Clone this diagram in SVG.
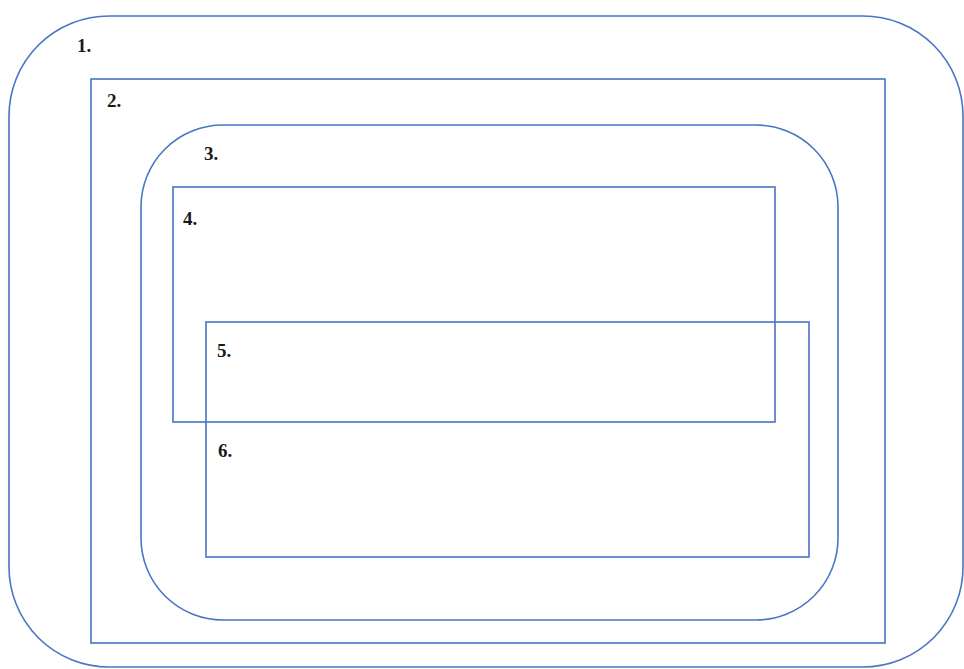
<svg xmlns="http://www.w3.org/2000/svg" width="964" height="669" viewBox="0 0 964 669">
<style>
.s{fill:none;stroke:#4a74c4;stroke-width:1.6}
.t{font-family:"Liberation Serif",serif;font-weight:bold;font-size:19px;fill:#1a1a1a}
</style>
<rect width="964" height="669" fill="#fff"/>
<g id="n1"><rect class="s" x="9" y="16" width="954" height="651" rx="100" ry="100"/><text class="t" x="77" y="52">1.</text></g>
<g id="n2"><rect class="s" x="91" y="79" width="794" height="564"/><text class="t" x="107" y="107">2.</text></g>
<g id="n3"><rect class="s" x="141" y="125" width="697" height="495" rx="82" ry="82"/><text class="t" x="204" y="160">3.</text></g>
<g id="n4"><rect class="s" x="173" y="187" width="602" height="235"/><text class="t" x="183" y="225">4.</text></g>
<g id="n5"><rect class="s" x="206" y="322" width="603" height="235"/><text class="t" x="217" y="357">5.</text><text class="t" x="218" y="457">6.</text></g>
<g id="connectors"/>
</svg>
